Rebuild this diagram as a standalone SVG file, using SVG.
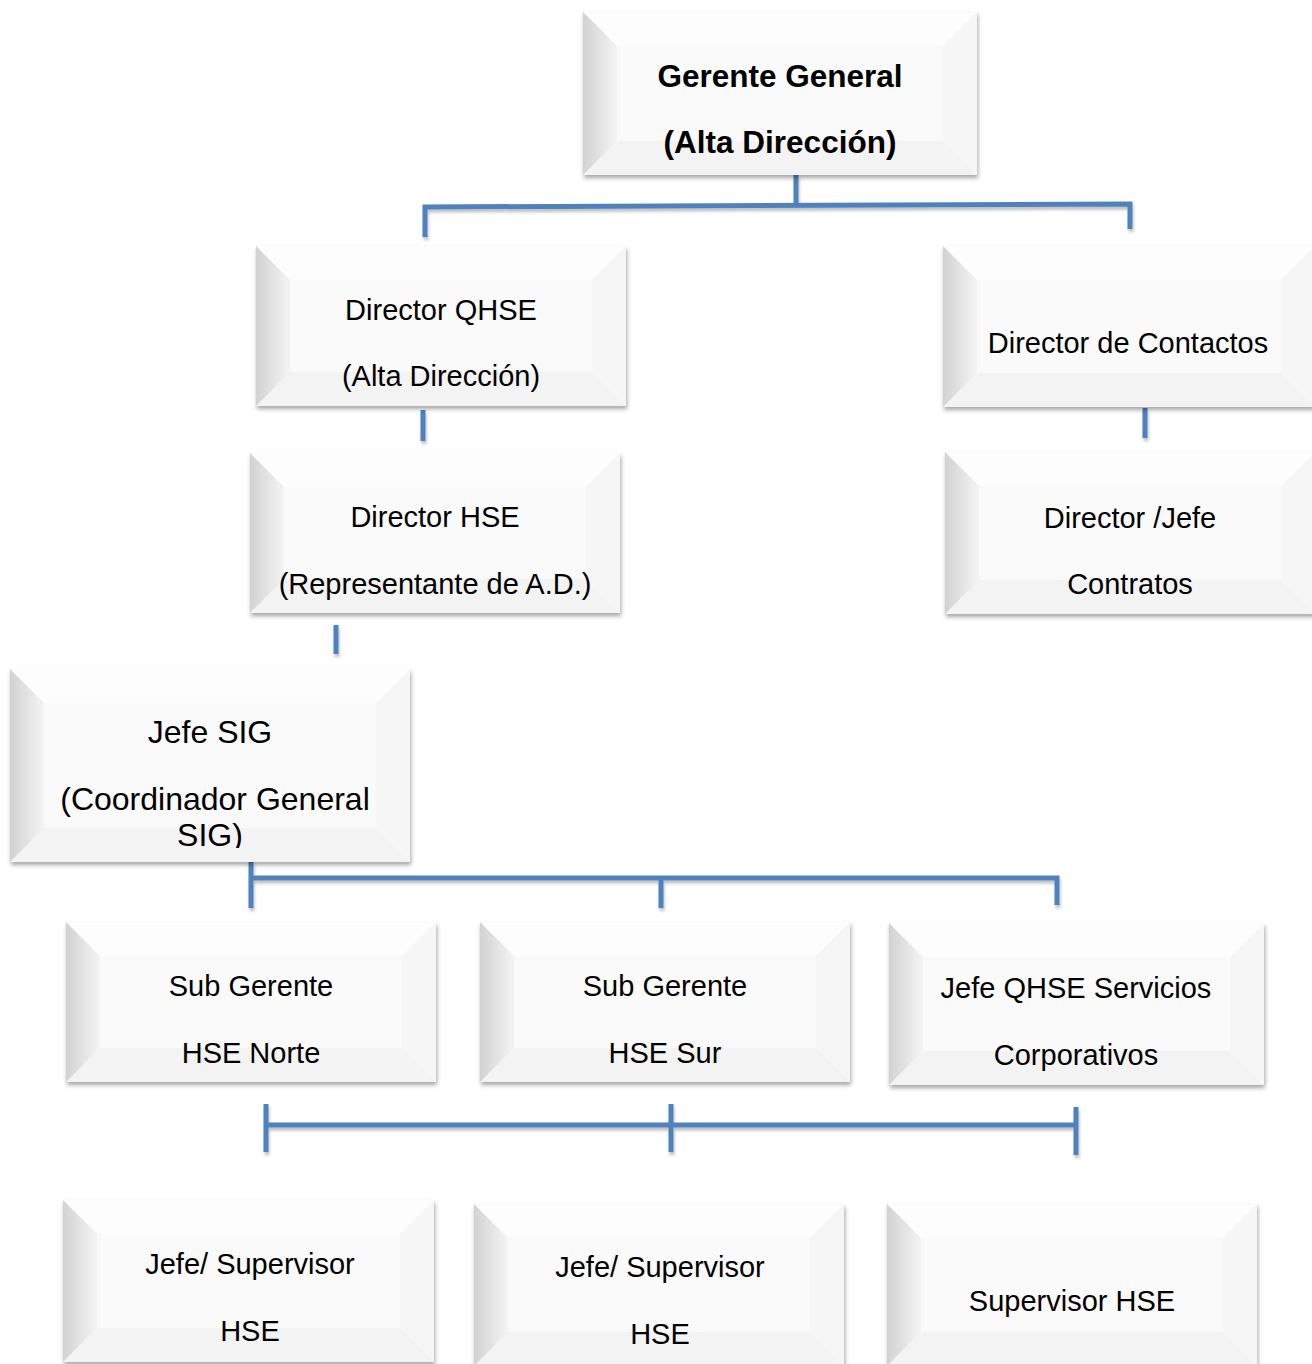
<svg xmlns="http://www.w3.org/2000/svg" width="1312" height="1364" viewBox="0 0 1312 1364">
<defs>
<linearGradient id="lg" x1="0" y1="0" x2="1" y2="0"><stop offset="0" stop-color="#d2d2d2"/><stop offset="1" stop-color="#f4f4f4"/></linearGradient>
<filter id="sh" x="-5%" y="-5%" width="112%" height="115%"><feDropShadow dx="1" dy="3" stdDeviation="2" flood-color="#000" flood-opacity="0.35"/></filter>
<filter id="lsh" x="-5%" y="-50%" width="110%" height="200%"><feDropShadow dx="1" dy="3" stdDeviation="1.5" flood-color="#000" flood-opacity="0.25"/></filter>
<clipPath id="c6"><rect x="0" y="0" width="400" height="179"/></clipPath>
</defs>
<style>
.face{fill:#fafafa}
.l{fill:url(#lg)}
.t{fill:#fdfdfd}
.r{fill:#f6f6f6}
.b{fill:#f3f3f3}
text{font-family:"Liberation Sans",Arial,sans-serif;font-size:29px;fill:#000;text-anchor:middle}
.bold{font-weight:bold;font-size:31.5px}
.big{font-size:32px}
.conn{stroke:#4F81BD;stroke-width:5;fill:none}
</style>
<rect width="1312" height="1364" fill="#fff"/>

<g id="connectors" class="conn" filter="url(#lsh)">
<path d="M796 175V204"/>
<path d="M425 237V207L1130 204V229"/>
<path d="M423 410V441"/>
<path d="M1145 408V438"/>
<path d="M336 625V654"/>
<path d="M251 862V908M251 878H1057V905M661 878V908"/>
<path d="M266 1125H1076M266 1104V1152M671 1104V1152M1076 1107V1155"/>
</g>

<g id="n1" transform="translate(583,12)">
<g filter="url(#sh)"><rect class="face" width="394" height="163"/></g>
<polygon class="t" points="0,0 394,0 360,34 34,34"/>
<polygon class="r" points="394,0 394,163 360,129 360,34"/>
<polygon class="b" points="0,163 34,129 360,129 394,163"/>
<polygon class="l" points="0,0 34,34 34,129 0,163"/>
<text class="bold" x="197" y="75">Gerente General</text>
<text class="bold" x="197" y="141">(Alta Dirección)</text>
</g>

<g id="n2" transform="translate(256,246)">
<g filter="url(#sh)"><rect class="face" width="370" height="160"/></g>
<polygon class="t" points="0,0 370,0 336,34 34,34"/>
<polygon class="r" points="370,0 370,160 336,126 336,34"/>
<polygon class="b" points="0,160 34,126 336,126 370,160"/>
<polygon class="l" points="0,0 34,34 34,126 0,160"/>
<text x="185" y="74">Director QHSE</text>
<text x="185" y="140">(Alta Dirección)</text>
</g>

<g id="n3" transform="translate(943,246)">
<g filter="url(#sh)"><rect class="face" width="372" height="161"/></g>
<polygon class="t" points="0,0 372,0 338,34 34,34"/>
<polygon class="r" points="372,0 372,161 338,127 338,34"/>
<polygon class="b" points="0,161 34,127 338,127 372,161"/>
<polygon class="l" points="0,0 34,34 34,127 0,161"/>
<text x="185" y="107">Director de Contactos</text>
</g>

<g id="n4" transform="translate(250,453)">
<g filter="url(#sh)"><rect class="face" width="370" height="160"/></g>
<polygon class="t" points="0,0 370,0 336,34 34,34"/>
<polygon class="r" points="370,0 370,160 336,126 336,34"/>
<polygon class="b" points="0,160 34,126 336,126 370,160"/>
<polygon class="l" points="0,0 34,34 34,126 0,160"/>
<text x="185" y="74">Director HSE</text>
<text x="185" y="141">(Representante de A.D.)</text>
</g>

<g id="n5" transform="translate(945,452)">
<g filter="url(#sh)"><rect class="face" width="370" height="162"/></g>
<polygon class="t" points="0,0 370,0 336,34 34,34"/>
<polygon class="r" points="370,0 370,162 336,128 336,34"/>
<polygon class="b" points="0,162 34,128 336,128 370,162"/>
<polygon class="l" points="0,0 34,34 34,128 0,162"/>
<text x="185" y="76">Director /Jefe</text>
<text x="185" y="142">Contratos</text>
</g>

<g id="n6" transform="translate(10,669)">
<g filter="url(#sh)"><rect class="face" width="400" height="193"/></g>
<polygon class="t" points="0,0 400,0 366,34 34,34"/>
<polygon class="r" points="400,0 400,193 366,159 366,34"/>
<polygon class="b" points="0,193 34,159 366,159 400,193"/>
<polygon class="l" points="0,0 34,34 34,159 0,193"/>
<g clip-path="url(#c6)">
<text class="big" x="200" y="74">Jefe SIG</text>
<text class="big" x="205" y="141">(Coordinador General</text>
<text class="big" x="200" y="177">SIG)</text>
</g>
</g>

<g id="n7" transform="translate(66,922)">
<g filter="url(#sh)"><rect class="face" width="370" height="160"/></g>
<polygon class="t" points="0,0 370,0 336,34 34,34"/>
<polygon class="r" points="370,0 370,160 336,126 336,34"/>
<polygon class="b" points="0,160 34,126 336,126 370,160"/>
<polygon class="l" points="0,0 34,34 34,126 0,160"/>
<text x="185" y="74">Sub Gerente</text>
<text x="185" y="141">HSE Norte</text>
</g>

<g id="n8" transform="translate(480,922)">
<g filter="url(#sh)"><rect class="face" width="370" height="160"/></g>
<polygon class="t" points="0,0 370,0 336,34 34,34"/>
<polygon class="r" points="370,0 370,160 336,126 336,34"/>
<polygon class="b" points="0,160 34,126 336,126 370,160"/>
<polygon class="l" points="0,0 34,34 34,126 0,160"/>
<text x="185" y="74">Sub Gerente</text>
<text x="185" y="141">HSE Sur</text>
</g>

<g id="n9" transform="translate(889,923)">
<g filter="url(#sh)"><rect class="face" width="375" height="162"/></g>
<polygon class="t" points="0,0 375,0 341,34 34,34"/>
<polygon class="r" points="375,0 375,162 341,128 341,34"/>
<polygon class="b" points="0,162 34,128 341,128 375,162"/>
<polygon class="l" points="0,0 34,34 34,128 0,162"/>
<text x="187" y="75">Jefe QHSE Servicios</text>
<text x="187" y="142">Corporativos</text>
</g>

<g id="n10" transform="translate(63,1200)">
<g filter="url(#sh)"><rect class="face" width="371" height="162"/></g>
<polygon class="t" points="0,0 371,0 337,34 34,34"/>
<polygon class="r" points="371,0 371,162 337,128 337,34"/>
<polygon class="b" points="0,162 34,128 337,128 371,162"/>
<polygon class="l" points="0,0 34,34 34,128 0,162"/>
<text x="187" y="74">Jefe/ Supervisor</text>
<text x="187" y="141">HSE</text>
</g>

<g id="n11" transform="translate(474,1204)">
<g filter="url(#sh)"><rect class="face" width="370" height="162"/></g>
<polygon class="t" points="0,0 370,0 336,34 34,34"/>
<polygon class="r" points="370,0 370,162 336,128 336,34"/>
<polygon class="b" points="0,162 34,128 336,128 370,162"/>
<polygon class="l" points="0,0 34,34 34,128 0,162"/>
<text x="186" y="73">Jefe/ Supervisor</text>
<text x="186" y="140">HSE</text>
</g>

<g id="n12" transform="translate(887,1204)">
<g filter="url(#sh)"><rect class="face" width="370" height="162"/></g>
<polygon class="t" points="0,0 370,0 336,34 34,34"/>
<polygon class="r" points="370,0 370,162 336,128 336,34"/>
<polygon class="b" points="0,162 34,128 336,128 370,162"/>
<polygon class="l" points="0,0 34,34 34,128 0,162"/>
<text x="185" y="107">Supervisor HSE</text>
</g>
</svg>
